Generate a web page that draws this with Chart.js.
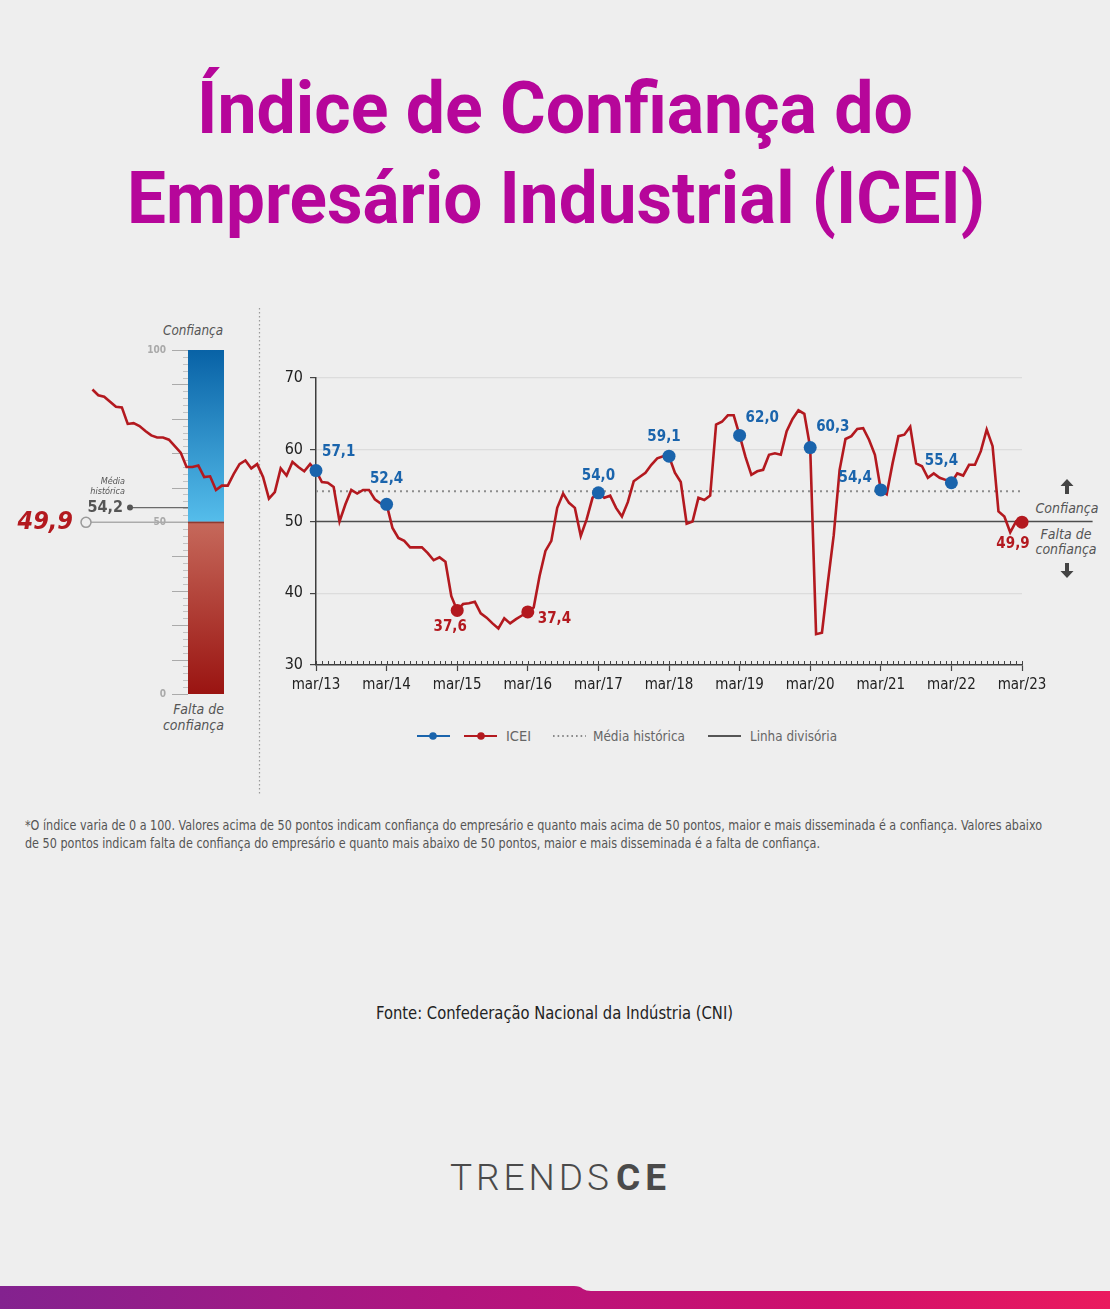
<!DOCTYPE html>
<html lang="pt-BR">
<head>
<meta charset="utf-8">
<title>Índice de Confiança do Empresário Industrial (ICEI)</title>
<script src="https://cdn.jsdelivr.net/npm/chart.js@4.4.1/dist/chart.umd.min.js"></script>
<style>
html,body{margin:0;padding:0;background:#eeeeee;}
#page{position:relative;width:1110px;height:1309px;overflow:hidden;background:#eeeeee;}
.layer{position:absolute;}
#deco{position:absolute;left:0;top:0;}
</style>
</head>
<body>
<div id="page">
<svg id="deco" width="1110" height="1309" xmlns="http://www.w3.org/2000/svg">
  <defs>
    <linearGradient id="band" x1="0" x2="1" y1="0" y2="0">
      <stop offset="0" stop-color="#83228f"/>
      <stop offset="0.4" stop-color="#b0157f"/>
      <stop offset="0.75" stop-color="#d0106c"/>
      <stop offset="1" stop-color="#ea1a5e"/>
    </linearGradient>
  </defs>
  <g font-family="Roboto, sans-serif" font-weight="700" font-size="72" fill="#b6069a">
    <text x="197" y="133" textLength="716" lengthAdjust="spacingAndGlyphs">Índice de Confiança do</text>
    <text x="127" y="223" textLength="858" lengthAdjust="spacingAndGlyphs">Empresário Industrial (ICEI)</text>
  </g>
  <line x1="259.5" y1="308" x2="259.5" y2="795" stroke="#9a9a9a" stroke-width="1.2" stroke-dasharray="1.5 2.5"/>
  <g font-family="'Liberation Sans Narrow','DejaVu Sans Condensed',Roboto,sans-serif" font-style="italic" font-size="14" fill="#555">
    <text x="223" y="335" text-anchor="end" textLength="60" lengthAdjust="spacingAndGlyphs">Confiança</text>
    <text x="224" y="714" text-anchor="end">Falta de</text>
    <text x="224" y="730" text-anchor="end">confiança</text>
    <text x="1067" y="513" text-anchor="middle">Confiança</text>
    <text x="1066" y="539" text-anchor="middle">Falta de</text>
    <text x="1066" y="554" text-anchor="middle">confiança</text>
  </g>
  <g fill="#444">
    <path d="M1067,479 L1073.5,486 L1069,486 L1069,494 L1065,494 L1065,486 L1060.5,486 Z"/>
    <path d="M1067,578 L1073.5,571 L1069,571 L1069,563 L1065,563 L1065,571 L1060.5,571 Z"/>
  </g>
  <g>
    <line x1="417" y1="736" x2="450" y2="736" stroke="#1a64ac" stroke-width="2"/>
    <circle cx="433" cy="736" r="3.8" fill="#1a64ac"/>
    <line x1="464" y1="736" x2="497" y2="736" stroke="#b3191f" stroke-width="2"/>
    <circle cx="481" cy="736" r="3.8" fill="#b3191f"/>
    <line x1="553" y1="736" x2="586" y2="736" stroke="#8a8a8a" stroke-width="2" stroke-dasharray="1.6 3"/>
    <line x1="708" y1="736" x2="741" y2="736" stroke="#555" stroke-width="2"/>
  </g>
  <g font-family="'Liberation Sans Narrow','DejaVu Sans Condensed',Roboto,sans-serif" font-size="14.5" fill="#666">
    <text x="506" y="741">ICEI</text>
    <text x="593" y="741" textLength="92" lengthAdjust="spacingAndGlyphs">Média histórica</text>
    <text x="750" y="741" textLength="87" lengthAdjust="spacingAndGlyphs">Linha divisória</text>
  </g>
  <g font-family="'Liberation Sans Narrow','DejaVu Sans Condensed',Roboto,sans-serif" font-size="13.5" fill="#555">
    <text x="25" y="830" textLength="1017" lengthAdjust="spacingAndGlyphs">*O índice varia de 0 a 100. Valores acima de 50 pontos indicam confiança do empresário e quanto mais acima de 50 pontos, maior e mais disseminada é a confiança. Valores abaixo</text>
    <text x="25" y="848" textLength="795" lengthAdjust="spacingAndGlyphs">de 50 pontos indicam falta de confiança do empresário e quanto mais abaixo de 50 pontos, maior e mais disseminada é a falta de confiança.</text>
  </g>
  <text x="376" y="1019" textLength="357" lengthAdjust="spacingAndGlyphs" font-family="'Liberation Sans Narrow','DejaVu Sans Condensed',Roboto,sans-serif" font-size="17" fill="#222">Fonte: Confederação Nacional da Indústria (CNI)</text>
  <g font-family="Roboto, sans-serif" font-size="37" fill="#4a4a4a">
    <text x="450" y="1190" font-weight="300" textLength="159" lengthAdjust="spacing">TRENDS</text>
    <text x="616" y="1190" font-weight="700" textLength="50" lengthAdjust="spacing">CE</text>
  </g>
  <path d="M0,1286 L574,1286 Q580,1286 583,1289 Q586,1291 591,1291 L1110,1291 L1110,1309 L0,1309 Z" fill="url(#band)"/>
</svg>
<div class="layer" style="left:0;top:340px;width:260px;height:380px"><canvas id="thermo"></canvas></div>
<div class="layer" style="left:0;top:340px;width:1110px;height:380px"><canvas id="hist"></canvas></div>
<div class="layer" style="left:0;top:340px;width:1110px;height:380px"><canvas id="main"></canvas></div>
</div>
<script>
// ---------------- DATA ----------------
// ICEI monthly, Jan/2010 .. Feb/2013 (drawn over the gauge, left of the main axis)
const historyValues = [68.4, 67.6, 67.4, 66.7, 66.0, 65.9, 63.6, 63.7, 63.3, 62.6, 62.0, 61.7,
  61.7, 61.4, 60.5, 59.6, 57.6, 57.6, 57.8, 56.2, 56.3, 54.4, 55.0, 55.0,
  56.6, 58.0, 58.5, 57.4, 58.0, 56.2, 53.2, 54.1, 57.4, 56.4, 58.3, 57.6,
  57.0, 58.0];
// ICEI monthly, Mar/2013 .. Mar/2023
const mainValues = [57.1, 55.5, 55.4, 54.8, 50.0, 52.4, 54.4, 53.9, 54.4, 54.4, 53.1, 52.5,
  52.4, 49.1, 47.7, 47.3, 46.4, 46.4, 46.4, 45.6, 44.6, 45.0, 44.4, 39.6,
  37.6, 38.5, 38.6, 38.8, 37.2, 36.6, 35.8, 35.1, 36.5, 35.8, 36.4, 36.9,
  37.4, 38.0, 42.4, 45.9, 47.3, 51.9, 53.9, 52.6, 51.9, 48.0, 50.3, 53.3,
  54.0, 53.3, 53.6, 51.9, 50.7, 52.7, 55.6, 56.2, 56.8, 57.9, 58.8, 59.1,
  59.1, 56.8, 55.5, 49.7, 50.0, 53.3, 53.0, 53.6, 63.5, 63.9, 64.8, 64.8,
  62.0, 59.0, 56.5, 57.0, 57.2, 59.3, 59.5, 59.3, 62.6, 64.3, 65.5, 65.0,
  60.3, 34.3, 34.5, 41.5, 48.1, 57.2, 61.5, 61.9, 62.9, 63.0, 61.4, 59.3,
  54.4, 53.8, 58.1, 61.9, 62.1, 63.2, 58.1, 57.7, 56.1, 56.7, 56.1, 55.8,
  55.4, 56.7, 56.4, 57.9, 57.9, 59.8, 62.8, 60.5, 51.4, 50.7, 48.5, 50.0,
  49.9];
const xTickLabels = ['mar/13','mar/14','mar/15','mar/16','mar/17','mar/18','mar/19','mar/20','mar/21','mar/22','mar/23'];
const yTickValues = [30, 40, 50, 60, 70];
const historicalMean = 54.2;
const dividingLine = 50;
const currentValue = 49.9;
const thermoSegments = [50, 50];       // 0-50 falta de confiança, 50-100 confiança
const thermoTickLabels = [0, 50, 100];

// ---------------- STYLE ----------------
const FONT = "'Liberation Sans Narrow','DejaVu Sans Condensed','Roboto Condensed',Roboto,sans-serif";
const RED = '#b3191f', BLUE = '#1a64ac';
const MONTHS_PER_TICK = 12;
// label placement (dx, dy, align) for highlighted March points
const labelOffsets = [[6,-18,'left'],[0,-25,'center'],[-7,17,'center'],[10,7,'left'],[0,-17,'center'],
  [-5,-19,'center'],[6,-17,'left'],[6,-20,'left'],[-9,-12,'right'],[-10,-22,'center'],[-9,22,'center']];
const fmt = v => v.toFixed(1).replace('.', ',');

Chart.defaults.font.family = FONT;
Chart.defaults.animation = false;

// ---------------- GAUGE (thermometer) ----------------
function vGrad(ctx, from, to, cTop, cBottom) {
  const ch = ctx.chart;
  if (!ch.chartArea) return cTop;
  const y = ch.scales.y;
  const g = ch.ctx.createLinearGradient(0, y.getPixelForValue(to), 0, y.getPixelForValue(from));
  g.addColorStop(0, cTop); g.addColorStop(1, cBottom);
  return g;
}
const gaugePlugin = {
  id: 'gauge',
  afterDraw(chart) {
    const y = chart.scales.y, left = chart.chartArea.left, right = chart.chartArea.right;
    const c = chart.ctx;
    c.save();
    const p50 = y.getPixelForValue(dividingLine);
    c.strokeStyle = '#8f3a31'; c.lineWidth = 1.5;
    c.beginPath(); c.moveTo(left, p50 + 0.5); c.lineTo(right, p50 + 0.5); c.stroke();
    for (let v = 0; v <= 100; v += 2) {
      const py = Math.round(y.getPixelForValue(v)) + 0.5;
      const major = v % 10 === 0;
      c.strokeStyle = major ? '#aaaaaa' : '#c2c2c2';
      c.lineWidth = 1;
      c.beginPath(); c.moveTo(left - (major ? 16 : 5), py); c.lineTo(left, py); c.stroke();
    }
    c.fillStyle = '#a9a9a9'; c.font = 'bold 10px ' + FONT; c.textAlign = 'right'; c.textBaseline = 'middle';
    thermoTickLabels.forEach(v => c.fillText(String(v), left - 22, y.getPixelForValue(v)));
    const pm = y.getPixelForValue(historicalMean);
    c.strokeStyle = '#6a6a6a'; c.lineWidth = 1.2;
    c.beginPath(); c.moveTo(130, pm); c.lineTo(left, pm); c.stroke();
    c.fillStyle = '#555'; c.beginPath(); c.arc(130, pm, 3, 0, Math.PI * 2); c.fill();
    c.font = 'bold 16px ' + FONT; c.textAlign = 'right';
    c.fillText(fmt(historicalMean), 123, pm);
    c.font = 'italic 9px ' + FONT;
    c.fillText('Média', 125, pm - 26);
    c.fillText('histórica', 125, pm - 16);
    const pc = y.getPixelForValue(currentValue);
    c.strokeStyle = '#ababab'; c.lineWidth = 1.5;
    c.beginPath(); c.moveTo(91, pc); c.lineTo(left, pc); c.stroke();
    c.fillStyle = '#eeeeee'; c.beginPath(); c.arc(86, pc, 5, 0, Math.PI * 2); c.fill();
    c.strokeStyle = '#9a9a9a'; c.stroke();
    c.fillStyle = RED; c.font = 'italic bold 25px ' + FONT; c.textAlign = 'right';
    c.fillText(fmt(currentValue), 73, pc);
    c.restore();
  }
};
new Chart(document.getElementById('thermo'), {
  type: 'bar',
  data: {
    labels: [''],
    datasets: [
      { data: [thermoSegments[0]], backgroundColor: ctx => vGrad(ctx, 0, 50, '#c6695b', '#9a1411'),
        borderWidth: 0, barPercentage: 1, categoryPercentage: 1 },
      { data: [thermoSegments[1]], backgroundColor: ctx => vGrad(ctx, 50, 100, '#0862a6', '#55bdeb'),
        borderWidth: 0, barPercentage: 1, categoryPercentage: 1 }
    ]
  },
  options: {
    responsive: true, maintainAspectRatio: false, events: [],
    layout: { padding: { left: 188, right: 36, top: 10, bottom: 26 } },
    plugins: { legend: { display: false }, tooltip: { enabled: false } },
    scales: {
      x: { stacked: true, display: false },
      y: { stacked: true, display: false, min: 0, max: 100 }
    }
  },
  plugins: [gaugePlugin]
});

// ---------------- HISTORY LINE (before mar/13) ----------------
const pxPerMonth = 706 / 120;
new Chart(document.getElementById('hist'), {
  type: 'line',
  data: {
    datasets: [{
      data: historyValues.map((v, k) => ({ x: k - historyValues.length, y: v })).concat([{ x: 0, y: mainValues[0] }]),
      borderColor: RED, borderWidth: 2.6, pointRadius: 0, tension: 0, clip: false
    }]
  },
  options: {
    responsive: true, maintainAspectRatio: false, events: [],
    layout: { padding: { left: 316 - historyValues.length * pxPerMonth, right: 1110 - 316, top: 38, bottom: 55 } },
    plugins: { legend: { display: false }, tooltip: { enabled: false } },
    scales: {
      x: { type: 'linear', min: -historyValues.length, max: 0, display: false },
      y: { min: 30, max: 70, display: false }
    }
  }
});

// ---------------- MAIN CHART ----------------
const minorTicksPlugin = {
  id: 'minorTicks',
  afterDraw(chart) {
    const x = chart.scales.x, b = chart.chartArea.bottom, c = chart.ctx;
    c.save(); c.strokeStyle = '#444'; c.lineWidth = 1;
    for (let i = x.min; i <= x.max; i++) {
      const px = Math.round(x.getPixelForValue(i)) + 0.5;
      c.beginPath(); c.moveTo(px, b - 4); c.lineTo(px, b); c.stroke();
    }
    c.restore();
  }
};
const pointLabelsPlugin = {
  id: 'pointLabels',
  afterDatasetsDraw(chart) {
    const meta = chart.getDatasetMeta(0), c = chart.ctx;
    c.save(); c.font = 'bold 15px ' + FONT; c.textBaseline = 'middle';
    let k = 0;
    meta.data.forEach((pt, i) => {
      if (i % MONTHS_PER_TICK !== 0) return;
      const v = mainValues[i];
      const [dx, dy, align] = labelOffsets[k++];
      c.fillStyle = v >= dividingLine ? BLUE : RED;
      c.textAlign = align;
      c.fillText(fmt(v), pt.x + dx, pt.y + dy);
    });
    c.restore();
  }
};
new Chart(document.getElementById('main'), {
  type: 'line',
  data: {
    datasets: [
      { label: 'ICEI', data: mainValues.map((v, i) => ({ x: i, y: v })),
        borderColor: RED, borderWidth: 2.6, tension: 0, clip: false, order: 0,
        pointRadius: c => (c.dataIndex % MONTHS_PER_TICK === 0 ? 6.5 : 0),
        pointHoverRadius: c => (c.dataIndex % MONTHS_PER_TICK === 0 ? 6.5 : 0),
        pointBackgroundColor: c => (c.raw && c.raw.y >= dividingLine ? BLUE : RED),
        pointBorderWidth: 0 },
      { label: 'Média histórica', data: [{ x: 0, y: historicalMean }, { x: 120, y: historicalMean }],
        borderColor: '#8d8d8d', borderWidth: 2, borderDash: [2, 4], pointRadius: 0, order: 1 },
      { label: 'Linha divisória', data: [{ x: 0, y: dividingLine }, { x: 132, y: dividingLine }],
        borderColor: '#4d4d4d', borderWidth: 1.5, pointRadius: 0, clip: false, order: 2 }
    ]
  },
  options: {
    responsive: true, maintainAspectRatio: false, events: [],
    layout: { padding: { left: 0, right: 88, top: 38, bottom: 0 } },
    plugins: { legend: { display: false }, tooltip: { enabled: false } },
    scales: {
      x: {
        type: 'linear', min: 0, max: 120,
        afterFit: s => { s.height = 55; },
        ticks: { stepSize: MONTHS_PER_TICK, autoSkip: false, maxRotation: 0, padding: 5, color: '#222',
          font: { size: 15 }, callback: v => xTickLabels[Math.round(v / MONTHS_PER_TICK)] },
        grid: { drawOnChartArea: false, drawTicks: true, tickLength: 6, tickColor: '#444', tickWidth: 1.2 },
        border: { display: true, color: '#3d3d3d', width: 1.5 }
      },
      y: {
        min: 30, max: 70,
        afterFit: s => { s.width = 316; },
        afterBuildTicks: s => { s.ticks = yTickValues.map(v => ({ value: v })); },
        ticks: { padding: 7, color: '#222', font: { size: 16 } },
        grid: { color: c => (c.tick && (c.tick.value === 30 || c.tick.value === 50) ? 'rgba(0,0,0,0)' : '#dcdcdc'),
          lineWidth: 1.2, tickLength: 6, tickColor: '#444' },
        border: { display: true, color: '#3d3d3d', width: 1.5 }
      }
    }
  },
  plugins: [minorTicksPlugin, pointLabelsPlugin]
});
</script>
</body>
</html>
